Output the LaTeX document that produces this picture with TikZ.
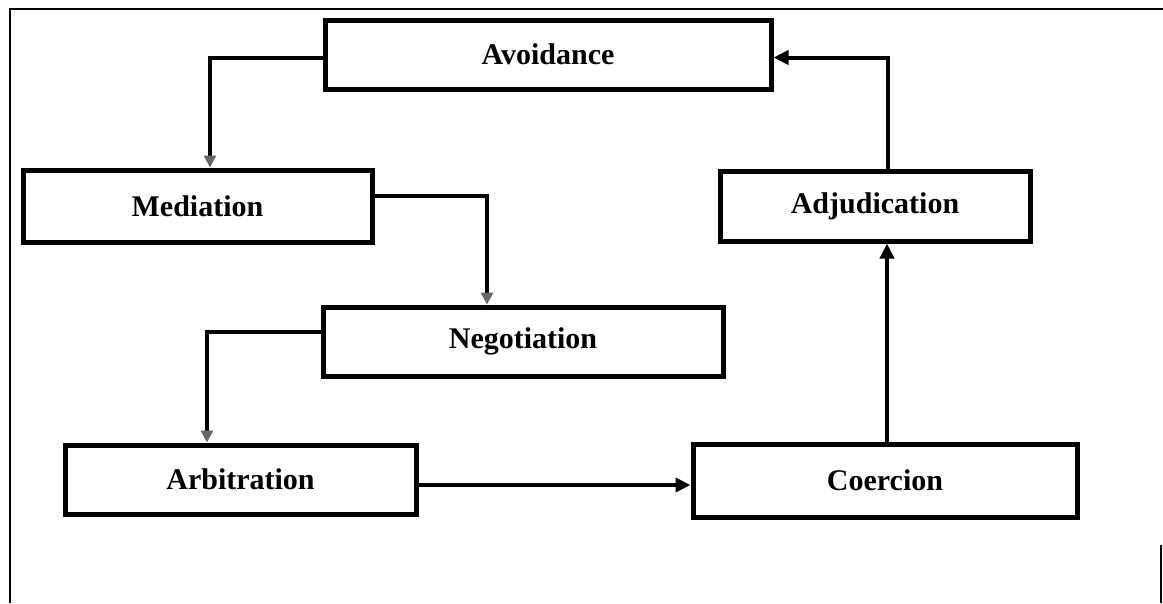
\documentclass[tikz,border=0pt]{standalone}
\usepackage{fontspec}
\setmainfont{Liberation Serif}
\usetikzlibrary{arrows.meta}
\begin{document}
\begin{tikzpicture}[x=1pt,y=-1pt,
  stagebox/.style={draw=black,line width=5pt,inner sep=0pt,font=\fontsize{30}{34}\selectfont\bfseries},
  conn/.style={draw=black,line width=4pt},
  arr/.style={conn,-{Triangle[length=15pt,width=14pt]}},
  farr/.style={conn,-{Triangle[length=12pt,width=12pt,color=black!60]}}]
\useasboundingbox (0,0) rectangle (1163,603);
% frame
\draw[line width=2pt] (10,603) -- (10,9) -- (1163,9);
\draw[line width=2pt] (1161,545) -- (1161,603);
% boxes
\node[stagebox,minimum width=446pt,minimum height=69pt] (avo) at (548,54.5) {Avoidance};
\node[stagebox,minimum width=349pt,minimum height=72pt] (med) at (197.5,206) {Mediation};
\node[stagebox,minimum width=310pt,minimum height=70pt] (adj) at (875,206) {Adjudication};
\node[stagebox,minimum width=400pt,minimum height=69pt] (neg) at (523,341.5) {Negotiation};
\node[stagebox,minimum width=351pt,minimum height=69pt] (arb) at (240.5,479.5) {Arbitration};
\node[stagebox,minimum width=384pt,minimum height=73pt] (coe) at (885,480.5) {Coercion};
% connectors
\draw[farr] ([yshift=-3pt]avo.west) -| ([xshift=12.5pt]med.north);
\draw[farr] ([yshift=10pt]med.east) -| ([xshift=-36pt]neg.north);
\draw[farr] ([yshift=9.5pt]neg.west) -| ([xshift=-33.5pt]arb.north);
\draw[arr] ([yshift=-5.5pt]arb.east) -- ([yshift=-5.5pt]arb.east -| coe.west);
\draw[arr] ([xshift=2pt]coe.north) -- ([xshift=2pt]coe.north |- adj.south);
\draw[arr] ([xshift=13pt]adj.north) |- ([yshift=-3pt]avo.east);
\end{tikzpicture}
\end{document}
